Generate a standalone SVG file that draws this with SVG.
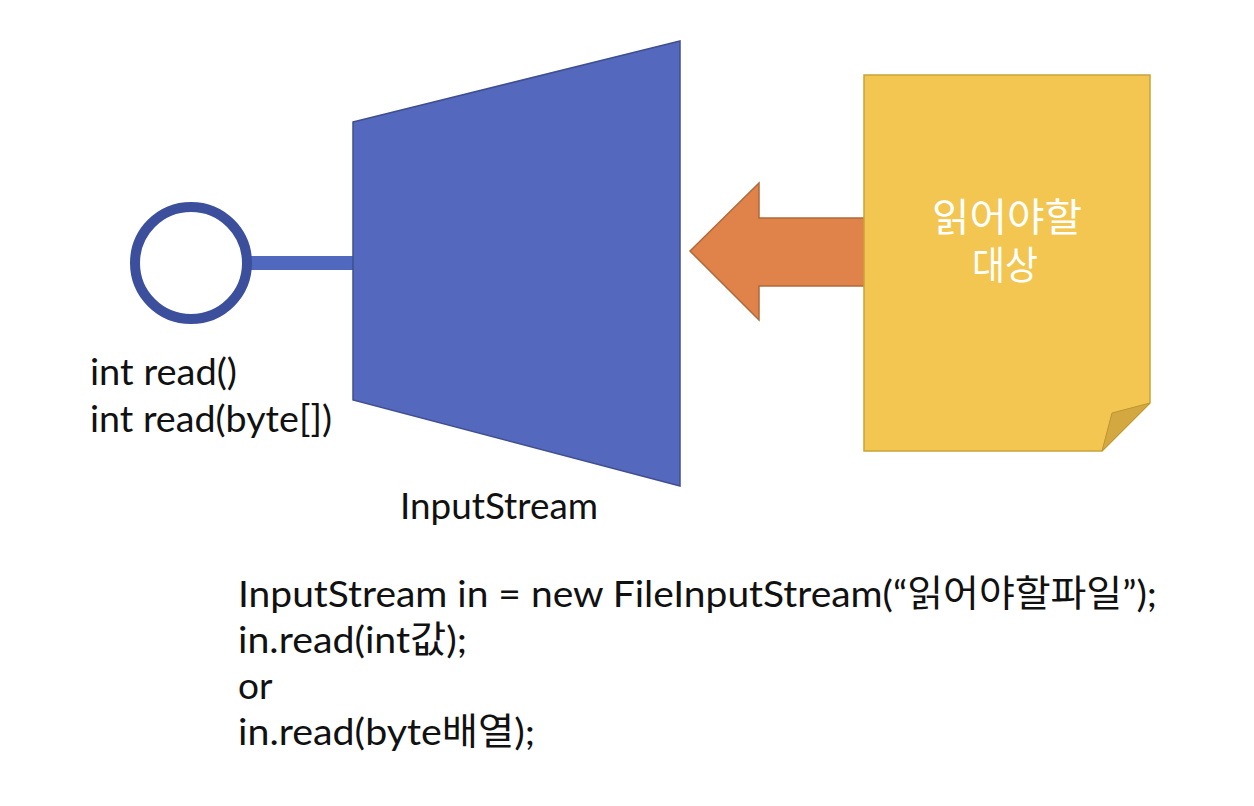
<svg xmlns="http://www.w3.org/2000/svg" width="1254" height="806" viewBox="0 0 1254 806">
<style>
.t{font-family:Lato,"Noto Sans CJK KR",sans-serif;fill:#111;}
.k{font-family:"Noto Sans CJK KR",sans-serif;fill:#ffffff;font-size:39px;text-anchor:middle;}
</style>
<rect width="1254" height="806" fill="#ffffff"/>
<g id="connectors">
<rect x="250" y="256" width="104" height="14" fill="#5068be"/>
</g>
<g id="interface-circle">
<circle cx="191" cy="263" r="56" fill="#ffffff" stroke="#3c4f9c" stroke-width="10"/>
</g>
<g id="inputstream">
<polygon points="353,122 680,41 680,486 353,400" fill="#5469bd" stroke="#3f4f8f" stroke-width="1.5"/>
<text class="t" x="400" y="519" font-size="36" textLength="198" lengthAdjust="spacingAndGlyphs">InputStream</text>
</g>
<g id="arrow">
<polygon points="690,251 759,183 759,218 876,218 876,286 759,286 759,320" fill="#e0834a" stroke="#b06a3a" stroke-width="1.5"/>
</g>
<g id="document">
<polygon points="864,75 1150,75 1150,403 1102,451 864,451" fill="#f2c650" stroke="#c9a43a" stroke-width="1.5"/>
<polygon points="1150,403 1112,413 1102,451" fill="#d4a840" stroke="#c09530" stroke-width="1"/>
<text class="k" x="1007" y="231" textLength="150" lengthAdjust="spacingAndGlyphs">읽어야할</text>
<text class="k" x="1005" y="279" textLength="66" lengthAdjust="spacingAndGlyphs">대상</text>
</g>
<g id="methods">
<text class="t" x="90" y="385" font-size="36" textLength="147" lengthAdjust="spacingAndGlyphs">int read()</text>
<text class="t" x="90" y="432" font-size="36" textLength="242" lengthAdjust="spacingAndGlyphs">int read(byte[])</text>
</g>
<g id="code">
<text class="t" x="238" y="607" font-size="37" textLength="919" lengthAdjust="spacingAndGlyphs">InputStream in = new FileInputStream(“읽어야할파일”);</text>
<text class="t" x="238" y="653" font-size="37" textLength="229" lengthAdjust="spacingAndGlyphs">in.read(int값);</text>
<text class="t" x="238" y="699" font-size="37">or</text>
<text class="t" x="238" y="745" font-size="37" textLength="297" lengthAdjust="spacingAndGlyphs">in.read(byte배열);</text>
</g>
</svg>
